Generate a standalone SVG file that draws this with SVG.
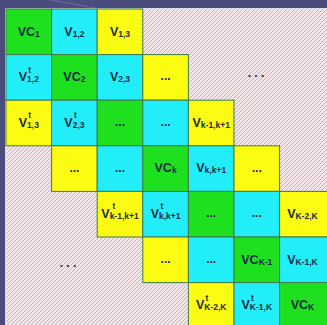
<svg xmlns="http://www.w3.org/2000/svg" width="327" height="325" viewBox="0 0 327 325">
<defs>
<pattern id="hatch" patternUnits="userSpaceOnUse" width="4" height="4">
<rect width="4" height="4" fill="#f4e6e8"/>
<path d="M-1,1 L1,-1 M0,4 L4,0 M3,5 L5,3" stroke="#c4b2b5" stroke-width="1"/>
</pattern>
<style>
.g{fill:#1ee01e}
.c{fill:#22eefa}
.y{fill:#fcfc12}
.cell rect{stroke:#3f7a4a;stroke-width:1}
.t{font-family:"Liberation Sans",Arial,sans-serif;font-weight:bold;font-size:12.5px;fill:#1b2c44;text-anchor:middle}
.s{font-size:8.5px}
.sup{font-family:"Liberation Sans",Arial,sans-serif;font-weight:bold;font-size:8.5px;fill:#1b2c44}
.dots{font-family:"Liberation Sans",Arial,sans-serif;font-weight:bold;font-size:12px;fill:#1b2c44;text-anchor:middle}
</style>
</defs>
<rect width="327" height="325" fill="#4b4c7e"/>
<line x1="30" y1="-4" x2="100" y2="9" stroke="#6a6b9c" stroke-width="1"/>
<rect x="6" y="9" width="321" height="316" fill="url(#hatch)"/>
<path d="M5.5,325 V8.5 H327" fill="none" stroke="#dcdcec" stroke-width="1"/>
<g id="connectors"></g>

<!-- row 0 -->
<g id="r0c0" class="cell"><rect class="g" x="6" y="9" width="45.6" height="45.6"/><text class="t" x="28.8" y="35.6">VC<tspan class="s" dy="1">1</tspan></text></g>
<g id="r0c1" class="cell"><rect class="c" x="51.6" y="9" width="45.6" height="45.6"/><text class="t" x="74.4" y="35.6">V<tspan class="s" dy="1">1,2</tspan></text></g>
<g id="r0c2" class="cell"><rect class="y" x="97.2" y="9" width="45.6" height="45.6"/><text class="t" x="120" y="35.6">V<tspan class="s" dy="1">1,3</tspan></text></g>

<!-- row 1 -->
<g id="r1c0" class="cell"><rect class="c" x="6" y="54.6" width="45.6" height="45.6"/><text class="t" x="28.8" y="81.2">V<tspan class="s" dy="1">1,2</tspan></text><text class="sup" x="28.3" y="72.5">t</text></g>
<g id="r1c1" class="cell"><rect class="g" x="51.6" y="54.6" width="45.6" height="45.6"/><text class="t" x="74.4" y="81.2">VC<tspan class="s" dy="1">2</tspan></text></g>
<g id="r1c2" class="cell"><rect class="c" x="97.2" y="54.6" width="45.6" height="45.6"/><text class="t" x="120" y="81.2">V<tspan class="s" dy="1">2,3</tspan></text></g>
<g id="r1c3" class="cell"><rect class="y" x="142.8" y="54.6" width="45.6" height="45.6"/><text class="dots" x="165.6" y="80.4">...</text></g>

<!-- row 2 -->
<g id="r2c0" class="cell"><rect class="y" x="6" y="100.2" width="45.6" height="45.6"/><text class="t" x="28.8" y="126.8">V<tspan class="s" dy="1">1,3</tspan></text><text class="sup" x="28.3" y="118.1">t</text></g>
<g id="r2c1" class="cell"><rect class="c" x="51.6" y="100.2" width="45.6" height="45.6"/><text class="t" x="74.4" y="126.8">V<tspan class="s" dy="1">2,3</tspan></text><text class="sup" x="73.9" y="118.1">t</text></g>
<g id="r2c2" class="cell"><rect class="g" x="97.2" y="100.2" width="45.6" height="45.6"/><text class="dots" x="120" y="126">...</text></g>
<g id="r2c3" class="cell"><rect class="c" x="142.8" y="100.2" width="45.6" height="45.6"/><text class="dots" x="165.6" y="126">...</text></g>
<g id="r2c4" class="cell"><rect class="y" x="188.4" y="100.2" width="45.6" height="45.6"/><text class="t" x="211.2" y="126.8">V<tspan class="s" dy="1">k-1,k+1</tspan></text></g>

<!-- row 3 -->
<g id="r3c1" class="cell"><rect class="y" x="51.6" y="145.8" width="45.6" height="45.6"/><text class="dots" x="74.4" y="171.6">...</text></g>
<g id="r3c2" class="cell"><rect class="c" x="97.2" y="145.8" width="45.6" height="45.6"/><text class="dots" x="120" y="171.6">...</text></g>
<g id="r3c3" class="cell"><rect class="g" x="142.8" y="145.8" width="45.6" height="45.6"/><text class="t" x="165.6" y="172.4">VC<tspan class="s" dy="1">k</tspan></text></g>
<g id="r3c4" class="cell"><rect class="c" x="188.4" y="145.8" width="45.6" height="45.6"/><text class="t" x="211.2" y="172.4">V<tspan class="s" dy="1">k,k+1</tspan></text></g>
<g id="r3c5" class="cell"><rect class="y" x="234" y="145.8" width="45.6" height="45.6"/><text class="dots" x="256.8" y="171.6">...</text></g>

<!-- row 4 -->
<g id="r4c2" class="cell"><rect class="y" x="97.2" y="191.4" width="45.6" height="45.6"/><text class="t" x="120" y="218">V<tspan class="s" dy="1">k-1,k+1</tspan></text><text class="sup" x="112.5" y="209.3">t</text></g>
<g id="r4c3" class="cell"><rect class="c" x="142.8" y="191.4" width="45.6" height="45.6"/><text class="t" x="165.6" y="218">V<tspan class="s" dy="1">k,k+1</tspan></text><text class="sup" x="160.5" y="209.3">t</text></g>
<g id="r4c4" class="cell"><rect class="g" x="188.4" y="191.4" width="45.6" height="45.6"/><text class="dots" x="211.2" y="217.2">...</text></g>
<g id="r4c5" class="cell"><rect class="c" x="234" y="191.4" width="45.6" height="45.6"/><text class="dots" x="256.8" y="217.2">...</text></g>
<g id="r4c6" class="cell"><rect class="y" x="279.6" y="191.4" width="48" height="45.6"/><text class="t" x="302.4" y="218">V<tspan class="s" dy="1">K-2,K</tspan></text></g>

<!-- row 5 -->
<g id="r5c3" class="cell"><rect class="y" x="142.8" y="237" width="45.6" height="45.6"/><text class="dots" x="165.6" y="262.8">...</text></g>
<g id="r5c4" class="cell"><rect class="c" x="188.4" y="237" width="45.6" height="45.6"/><text class="dots" x="211.2" y="262.8">...</text></g>
<g id="r5c5" class="cell"><rect class="g" x="234" y="237" width="45.6" height="45.6"/><text class="t" x="256.8" y="263.6">VC<tspan class="s" dy="1">K-1</tspan></text></g>
<g id="r5c6" class="cell"><rect class="c" x="279.6" y="237" width="48" height="45.6"/><text class="t" x="302.4" y="263.6">V<tspan class="s" dy="1">K-1,K</tspan></text></g>

<!-- row 6 -->
<g id="r6c4" class="cell"><rect class="y" x="188.4" y="282.6" width="45.6" height="45"/><text class="t" x="211.2" y="309.2">V<tspan class="s" dy="1">K-2,K</tspan></text><text class="sup" x="205.5" y="300.5">t</text></g>
<g id="r6c5" class="cell"><rect class="c" x="234" y="282.6" width="45.6" height="45"/><text class="t" x="256.8" y="309.2">V<tspan class="s" dy="1">K-1,K</tspan></text><text class="sup" x="251.1" y="300.5">t</text></g>
<g id="r6c6" class="cell"><rect class="g" x="279.6" y="282.6" width="48" height="45"/><text class="t" x="302.4" y="309.2">VC<tspan class="s" dy="1">K</tspan></text></g>

<!-- hatched area ellipses -->
<g id="dots-upper"><text class="dots" x="256" y="77">. . .</text></g>
<g id="dots-lower"><text class="dots" x="68" y="267">. . .</text></g>
</svg>
